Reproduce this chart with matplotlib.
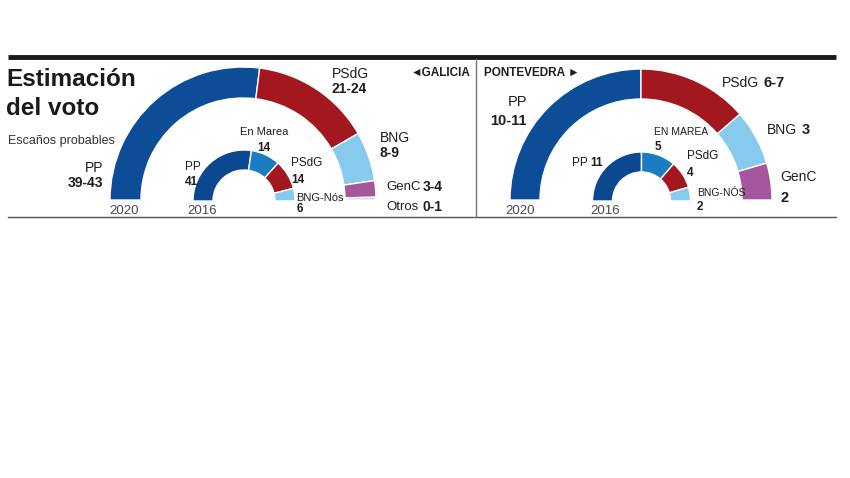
import matplotlib
matplotlib.use('Agg')
import matplotlib.pyplot as plt
from matplotlib.patches import Wedge

W, H = 850, 478

# ── data ─────────────────────────────────────────────────────────────────────
GAL_2020 = [40.5, 22, 9, 3, 0.5]          # PP, PSdG, BNG, GenC, Otros (drawn seats)
GAL_2016 = [41, 14, 14, 6]                # PP, En Marea, PSdG, BNG-Nós
PON_2020 = [11, 6, 3, 2]                  # PP, PSdG, BNG, GenC
PON_2016 = [11, 5, 4, 2]                  # PP, En Marea, PSdG, BNG-Nós

COL_2020 = ['#0d4c97', '#a3181f', '#86cbee', '#a6569c', '#cfcfd5']
COL_2016 = ['#0b4890', '#1b7cc1', '#a3181f', '#86cbee']

NARROW = ['Liberation Sans', 'DejaVu Sans']
INK = '#1e1e1e'
GREY = '#4a4a4a'


def half_ring(ax, cx, cy, r, w, values, colors):
    """Upper half donut, left to right (y axis is inverted)."""
    total = float(sum(values))
    a = 180.0
    for v, c in zip(values, colors):
        span = 180.0 * v / total
        ax.add_patch(Wedge((cx, cy), r, a, a + span, width=w,
                           facecolor=c, edgecolor='white', linewidth=1.0))
        a += span


def txt(ax, x, y, s, size=10, bold=False, ha='left', color=INK):
    return ax.text(x, y, s, fontsize=size, ha=ha, va='center', color=color,
                   fontweight='bold' if bold else 'normal', family=NARROW)


def after(ax, t, s, size=10, gap=3):
    # bold number right after a regular label
    ax.annotate(s, xy=(1, 0.5), xycoords=t, xytext=(gap, 0),
                textcoords='offset points', ha='left', va='center',
                fontsize=size, fontweight='bold', color=INK, family=NARROW)


fig = plt.figure(figsize=(W / 100, H / 100), dpi=100)
ax = fig.add_axes([0, 0, 1, 1])
ax.set_xlim(0, W)
ax.set_ylim(H, 0)
ax.axis('off')

# frame lines
ax.plot([8, 836], [57, 57], color='#1a1a1a', linewidth=3.5, solid_capstyle='butt')
ax.plot([8, 836], [217, 217], color='#555555', linewidth=1.0)
ax.plot([476, 476], [59, 217], color='#777777', linewidth=1.0)

# ── Galicia ──────────────────────────────────────────────────────────────────
half_ring(ax, 243, 200, 133, 31, GAL_2020, COL_2020)
half_ring(ax, 244, 201, 51, 20, GAL_2016, COL_2016)

txt(ax, 6, 79, 'Estimación', size=17.5, bold=True, color='#1a1a1a')
txt(ax, 6, 108, 'del voto', size=17.5, bold=True, color='#1a1a1a')
txt(ax, 8, 141, 'Escaños probables', size=9, color='#333333')

txt(ax, 103, 168, 'PP', size=10, ha='right')
txt(ax, 103, 183, '39-43', size=10, bold=True, ha='right')
txt(ax, 332, 74, 'PSdG', size=10)
txt(ax, 332, 89, '21-24', size=10, bold=True)
txt(ax, 380, 138, 'BNG', size=10)
txt(ax, 380, 153, '8-9', size=10, bold=True)
txt(ax, 386, 187, 'GenC', size=9.5)
txt(ax, 423, 187, '3-4', size=10, bold=True)
txt(ax, 386, 207, 'Otros', size=9.5)
txt(ax, 423, 207, '0-1', size=10, bold=True)

txt(ax, 185, 167, 'PP', size=8.5)
txt(ax, 185, 182, '41', size=8.5, bold=True)
txt(ax, 264, 132, 'En Marea', size=8, ha='center')
txt(ax, 264, 148, '14', size=8.5, bold=True, ha='center')
txt(ax, 291, 163, 'PSdG', size=8.5)
txt(ax, 291, 180, '14', size=8.5, bold=True)
txt(ax, 296, 198, 'BNG-Nós', size=8)
txt(ax, 297, 209, '6', size=8.5, bold=True)

txt(ax, 124, 211, '2020', size=9.5, ha='center', color=GREY)
txt(ax, 202, 211, '2016', size=9.5, ha='center', color=GREY)

txt(ax, 471, 73, '◄GALICIA', size=8.5, bold=True, ha='right')

# ── Pontevedra ───────────────────────────────────────────────────────────────
half_ring(ax, 641, 200, 131, 30, PON_2020, COL_2020)
half_ring(ax, 641.5, 201, 49, 20, PON_2016, COL_2016)

txt(ax, 484, 73, 'PONTEVEDRA ►', size=8.5, bold=True)

txt(ax, 527, 102, 'PP', size=10.5, ha='right')
txt(ax, 527, 121, '10-11', size=10.5, bold=True, ha='right')
t = txt(ax, 722, 83, 'PSdG', size=10)
after(ax, t, '6-7', size=10.5)
t = txt(ax, 767, 130, 'BNG', size=10)
after(ax, t, '3', size=10.5)
txt(ax, 780, 177, 'GenC', size=10)
txt(ax, 781, 198, '2', size=10.5, bold=True)

t = txt(ax, 572, 163, 'PP', size=8.5)
after(ax, t, '11', size=8.5, gap=1.5)
txt(ax, 654, 132, 'EN MAREA', size=7.5)
txt(ax, 655, 147, '5', size=8.5, bold=True)
txt(ax, 687, 156, 'PSdG', size=8.5)
txt(ax, 687, 173, '4', size=8.5, bold=True)
txt(ax, 697, 193, 'BNG-NÓS', size=7.5)
txt(ax, 697, 207, '2', size=8.5, bold=True)

txt(ax, 520, 211, '2020', size=9.5, ha='center', color=GREY)
txt(ax, 605, 211, '2016', size=9.5, ha='center', color=GREY)

fig.savefig('out.png', dpi=100)
